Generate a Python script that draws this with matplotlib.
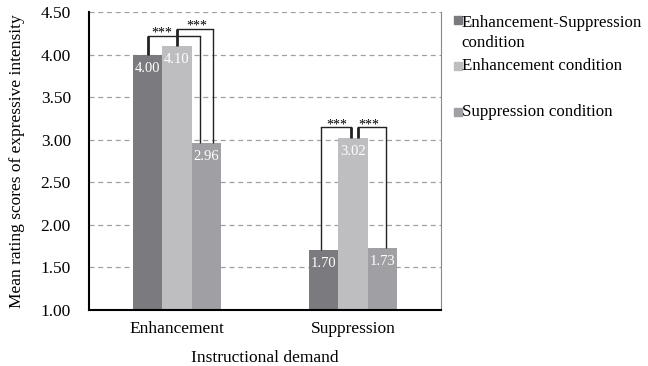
import matplotlib
matplotlib.use("Agg")
import matplotlib.pyplot as plt
import numpy as np
from matplotlib.patches import Rectangle

plt.rcParams['font.family'] = ['Liberation Serif', 'DejaVu Serif']

# data
demands = ['Enhancement', 'Suppression']
conditions = ['Enhancement-Suppression\ncondition', 'Enhancement condition', 'Suppression condition']
means = {
    'Enhancement-Suppression\ncondition': [4.00, 1.70],
    'Enhancement condition': [4.10, 3.02],
    'Suppression condition': [2.96, 1.73],
}
colors = ['#7b7b7f', '#bebec1', '#a0a0a4']
yticks = [1.00, 1.50, 2.00, 2.50, 3.00, 3.50, 4.00, 4.50]

fig = plt.figure(figsize=(6.48, 3.66), dpi=100)
ax = fig.add_axes([0.1373, 0.153, 0.5433, 0.814])

x = np.arange(len(demands))
w = 0.167
offsets = [-w, 0, w]
for cond, off, c in zip(conditions, offsets, colors):
    vals = means[cond]
    ax.bar(x + off, vals, width=w, color=c, zorder=2)
    for xi, v in zip(x + off, vals):
        ax.annotate(f'{v:.2f}', (xi, v), xytext=(0, -5), textcoords='offset points',
                    ha='center', va='top', color='white', fontsize=10.5, zorder=3)

def bracket(x1, y1, x2, y2, top, star_x, star_y):
    # short stub thick, long drop thin
    ax.plot([x1, x1], [y1, top], color='#222222', lw=2 if top - y1 < top - y2 else 1, zorder=4, solid_capstyle='butt')
    ax.plot([x1, x2], [top, top], color='#222222', lw=1, zorder=4)
    ax.plot([x2, x2], [top, y2], color='#222222', lw=2 if top - y2 < top - y1 else 1, zorder=4, solid_capstyle='butt')
    ax.text(star_x, star_y, '***', ha='center', va='center', fontsize=10, zorder=4)

e1, e2, e3 = [means[c][0] for c in conditions]
s1, s2, s3 = [means[c][1] for c in conditions]
bracket(x[0] - w, e1, x[0] + w - 0.035, e3, 4.22, x[0] - w / 2, 4.25)
bracket(x[0], e2, x[0] + w + 0.04, e3, 4.30, x[0] + 0.115, 4.34)
bracket(x[1] - w - 0.015, s1, x[1] - 0.01, s2, 3.15, x[1] - 0.09, 3.17)
bracket(x[1] + 0.028, s2, x[1] + w + 0.02, s3, 3.15, x[1] + 0.09, 3.17)

ax.set_xlim(-0.5, 1.5)
ax.set_ylim(1.0, 4.5)
ax.set_yticks(yticks)
ax.set_yticklabels([f'{t:.2f}' for t in yticks], fontsize=12.5)
ax.set_xticks(x)
ax.set_xticklabels(demands, fontsize=12.5)
ax.tick_params(axis='y', length=0, pad=13)
ax.tick_params(axis='x', length=0, pad=8)
ax.yaxis.grid(True, color='#a0a0a0', linestyle=(0, (4, 3)), lw=0.9, zorder=0)
ax.set_axisbelow(True)
ax.spines['top'].set_visible(False)
ax.spines['right'].set_color('#888888')
ax.spines['left'].set_linewidth(1.5)
ax.spines['bottom'].set_linewidth(1.5)
ax.set_ylabel('Mean rating scores of expressive intensity', fontsize=12.5, labelpad=11)
ax.set_xlabel('Instructional demand', fontsize=12.5, labelpad=9)

# legend drawn to the right of the axes
sq_y = [0.945, 0.820, 0.694]
for cond, c, ly in zip(conditions, colors, sq_y):
    fig.patches.append(Rectangle((0.700, ly - 0.011), 0.0123, 0.0219, color=c, transform=fig.transFigure))
    n_extra = cond.count('\n')
    base = ly - 0.0123 - n_extra * 0.060
    fig.text(0.7125, base, cond, ha='left', va='baseline', fontsize=12.2, linespacing=1.28,
             transform=fig.transFigure)

fig.savefig('out.png', dpi=100)
